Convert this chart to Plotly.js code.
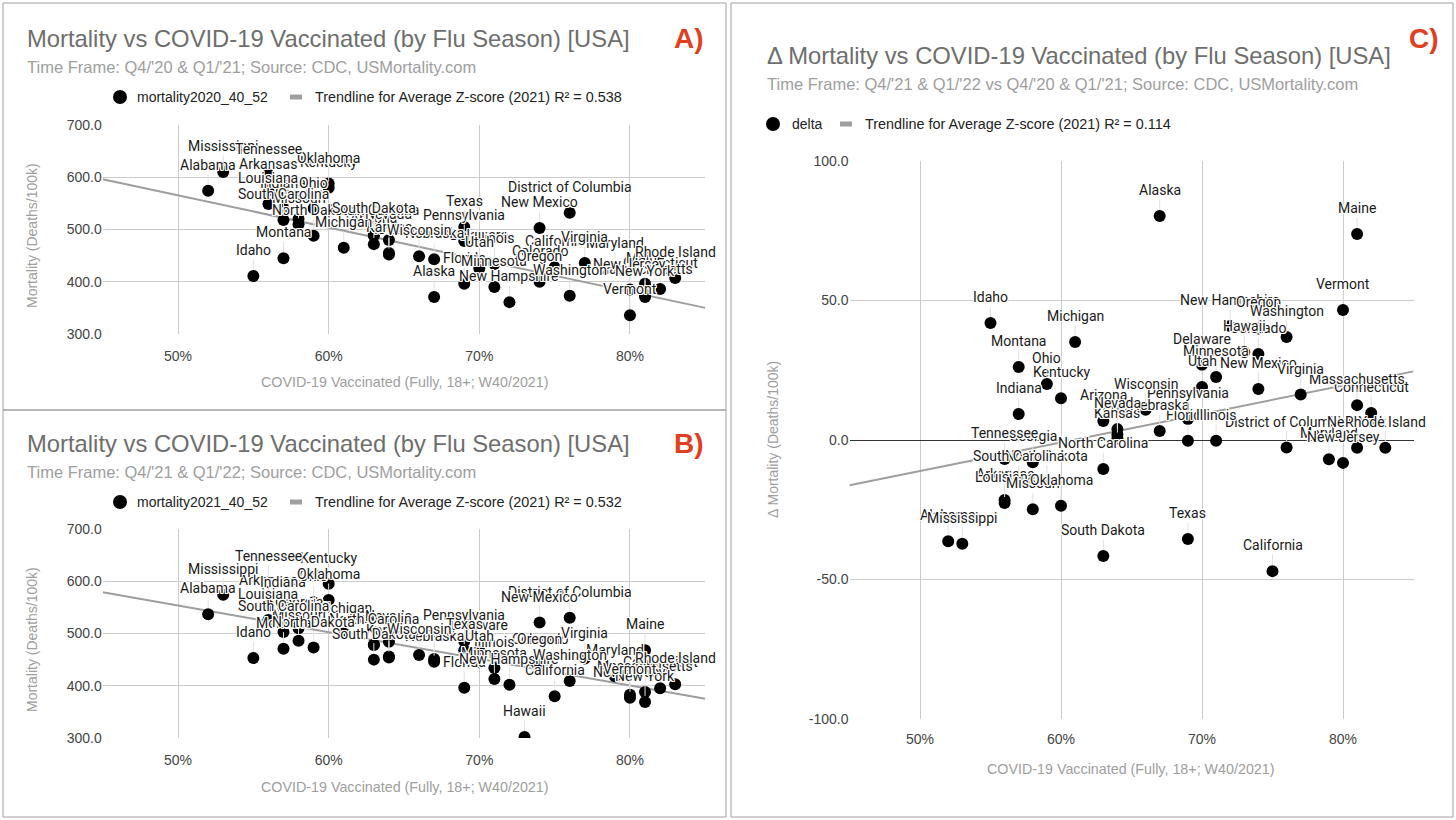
<!DOCTYPE html>
<html>
<head>
<meta charset="utf-8">
<script src="https://cdn.plot.ly/plotly-3.0.1.min.js"></script>
<style>
html,body{margin:0;padding:0;background:#fff;}
#chart{width:1456px;height:820px;}
</style>
</head>
<body>
<div id="chart"></div>
<script>
// ---- data ----
const states = ["Alabama","Alaska","Arizona","Arkansas","California","Colorado","Connecticut","Delaware","District of Columbia","Florida","Georgia","Hawaii","Idaho","Illinois","Indiana","Iowa","Kansas","Kentucky","Louisiana","Maine","Maryland","Massachusetts","Michigan","Minnesota","Mississippi","Missouri","Montana","Nebraska","Nevada","New Hampshire","New Jersey","New Mexico","New York","North Carolina","North Dakota","Ohio","Oklahoma","Oregon","Pennsylvania","Rhode Island","South Carolina","South Dakota","Tennessee","Texas","Utah","Vermont","Virginia","Washington","Wisconsin"];
const vaccinated = [52,67,63,56,75,74,82,70,76,69,58,73,55,71,57,64,64,60,56,81,79,81,61,71,53,58,57,67,64,72,80,74,81,63,59,59,60,74,69,83,57,63,56,69,70,80,77,76,66];
const mortality2020 = [574,371,472,575,428,409,386,440,532,396,520,271,411,434,540,452,455,580,549,396,425,375,465,390,610,510,445,443,480,361,385,503,371,488,488,540,588,400,478,407,518,491,605,505,426,336,436,373,449];
const mortality2021 = [537,451,479,553,380,440,395,467,530,396,510,302,453,434,549,454,456,595,526,468,418,388,500,413,574,486,471,446,484,402,377,521,369,478,473,560,564,440,485,403,503,450,598,468,445,383,452,409,459];
const deltaMort = [-36.3,80.3,6.8,-21.5,-47.0,30.8,9.7,27.0,-2.7,-0.3,-8.0,31.5,41.9,-0.3,9.3,2.0,0.5,15.0,-22.6,73.8,-6.9,12.5,35.1,22.6,-37.2,-24.8,26.2,3.2,3.9,40.9,-8.2,18.3,-2.8,-10.4,-15.0,20.1,-23.6,40.0,7.5,-2.8,-15.0,-41.6,-6.8,-35.5,19.0,46.6,16.3,36.9,10.8];

const trendX = [45,85];
const trendA = [596,350];
const trendB = [579,375];
const trendC = [-16.2,24.6];

const xTickVals = [50,60,70,80];
const xTickText = ["50%","60%","70%","80%"];
const yTickValsAB = [300,400,500,600,700];
const yTickTextAB = ["300.0","400.0","500.0","600.0","700.0"];
const yTickValsC = [-100,-50,0,50,100];
const yTickTextC = ["-100.0","-50.0","0.0","50.0","100.0"];

// ---- layout helpers ----
const W = 1456, H = 820;
const px = v => v / W;
const py = v => 1 - v / H;
const TITLE_FONT = "Liberation Sans, Arial, sans-serif";
const LABEL_FONT = "Roboto, Liberation Sans, sans-serif";
const halo = "1px 1px 0px #fff, -1px -1px 0px #fff, 1px -1px 0px #fff, -1px 1px 0px #fff, 0px 1px 0px #fff, 0px -1px 0px #fff, 1px 0px 0px #fff, -1px 0px 0px #fff";

function scatterTrace(yv, xa, ya) {
  return {x: vaccinated, y: yv, xaxis: xa, yaxis: ya, type: "scatter", mode: "markers",
    marker: {size: 12, color: "#000"}, hoverinfo: "skip", showlegend: false};
}
function trendTrace(yv, xa, ya) {
  return {x: trendX, y: yv, xaxis: xa, yaxis: ya, type: "scatter", mode: "lines",
    line: {color: "#9e9e9e", width: 2}, hoverinfo: "skip", showlegend: false};
}

const data = [
  trendTrace(trendA, "x", "y"), scatterTrace(mortality2020, "x", "y"),
  trendTrace(trendB, "x2", "y2"), scatterTrace(mortality2021, "x2", "y2"),
  trendTrace(trendC, "x3", "y3"), scatterTrace(deltaMort, "x3", "y3")
];

function xAxis(domain, anchor, standoff) {
  return {domain: domain, anchor: anchor, range: [45, 85], tickvals: xTickVals, ticktext: xTickText,
    showgrid: true, gridcolor: "#cccccc", zeroline: false, showline: false, ticks: "",
    ticklabelstandoff: standoff,
    tickfont: {family: TITLE_FONT, size: 14, color: "#444"}, fixedrange: true};
}
function yAxisAB(domain, anchor) {
  return {domain: domain, anchor: anchor, range: [300, 700], tickvals: yTickValsAB, ticktext: yTickTextAB,
    showgrid: true, gridcolor: "#cccccc", zeroline: false, showline: false, ticks: "",
    tickfont: {family: TITLE_FONT, size: 14, color: "#444"}, fixedrange: true};
}

const xDomAB = [px(102.7), px(705.3)];
const xDomC = [px(849.5), px(1413.5)];

const layout = {
  width: W, height: H, margin: {l: 0, r: 0, t: 0, b: 0},
  paper_bgcolor: "#fff", plot_bgcolor: "#fff", showlegend: false,
  xaxis: xAxis(xDomAB, "y", 12),
  yaxis: yAxisAB([py(334), py(125)], "x"),
  xaxis2: xAxis(xDomAB, "y2", 12),
  yaxis2: yAxisAB([py(738), py(529)], "x2"),
  xaxis3: xAxis(xDomC, "y3", 10),
  yaxis3: {domain: [py(719), py(161)], anchor: "x3", range: [-100, 100], tickvals: yTickValsC, ticktext: yTickTextC,
    showgrid: true, gridcolor: "#cccccc", zeroline: true, zerolinecolor: "#333", zerolinewidth: 1,
    showline: false, ticks: "", tickfont: {family: TITLE_FONT, size: 14, color: "#444"}, fixedrange: true},
  shapes: [],
  annotations: []
};

// panel borders
[[3,3,726,410],[3,410,726,817],[731,3,1453,817]].forEach(b => {
  layout.shapes.push({type: "rect", xref: "paper", yref: "paper", x0: px(b[0]), x1: px(b[2]), y0: py(b[1]), y1: py(b[3]),
    line: {color: "#a0a0a0", width: 1}, fillcolor: "rgba(0,0,0,0)", layer: "above"});
});

function textAnn(t, x, y, size, color, opts) {
  return Object.assign({xref: "paper", yref: "paper", x: px(x), y: py(y), text: t, showarrow: false,
    xanchor: "left", yanchor: "middle", font: {family: TITLE_FONT, size: size, color: color}}, opts || {});
}

const panels = [
  {title: "Mortality vs COVID-19 Vaccinated (by Flu Season) [USA]", tx: 25, ty: 38,
   sub: "Time Frame: Q4/'20 & Q1/'21; Source: CDC, USMortality.com", sy: 67,
   letter: "A)", lx: 689, ly: 38,
   series: "mortality2020_40_52", r2: "0.538", legY: 97, dotX: 120, serX: 135, barX: 290, trX: 313,
   xt: "COVID-19 Vaccinated (Fully, 18+; W40/2021)", xtx: 405, xty: 382,
   yt: "Mortality (Deaths/100k)", ytx: 32, yty: 236},
  {title: "Mortality vs COVID-19 Vaccinated (by Flu Season) [USA]", tx: 25, ty: 443,
   sub: "Time Frame: Q4/'21 & Q1/'22; Source: CDC, USMortality.com", sy: 472,
   letter: "B)", lx: 689, ly: 443,
   series: "mortality2021_40_52", r2: "0.532", legY: 502, dotX: 120, serX: 135, barX: 290, trX: 313,
   xt: "COVID-19 Vaccinated (Fully, 18+; W40/2021)", xtx: 405, xty: 787,
   yt: "Mortality (Deaths/100k)", ytx: 32, yty: 640},
  {title: "Δ Mortality vs COVID-19 Vaccinated (by Flu Season) [USA]", tx: 765, ty: 55,
   sub: "Time Frame: Q4/'21 & Q1/'22 vs Q4/'20 & Q1/'21; Source: CDC, USMortality.com", sy: 84,
   letter: "C)", lx: 1424, ly: 38,
   series: "delta", r2: "0.114", legY: 124, dotX: 773, serX: 790, barX: 840, trX: 863,
   xt: "COVID-19 Vaccinated (Fully, 18+; W40/2021)", xtx: 1131, xty: 769,
   yt: "Δ Mortality (Deaths/100k)", ytx: 773, yty: 440}
];

panels.forEach(p => {
  layout.annotations.push(textAnn(p.title, p.tx, p.ty, 23.8, "#6e6e6e"));
  layout.annotations.push(textAnn(p.sub, p.tx, p.sy, 16.5, "#9e9e9e"));
  layout.annotations.push(textAnn("<b>" + p.letter + "</b>", p.lx, p.ly, 28, "#e0401f", {xanchor: "center"}));
  layout.annotations.push(textAnn(p.series, p.serX, p.legY, 14, "#222"));
  layout.annotations.push(textAnn("Trendline for Average Z-score (2021) R² = " + p.r2, p.trX, p.legY, 14.4, "#222"));
  layout.annotations.push(textAnn(p.xt, p.xtx, p.xty, 14.3, "#9e9e9e", {xanchor: "center"}));
  layout.annotations.push(textAnn(p.yt, p.ytx, p.yty, 14, "#9e9e9e", {xanchor: "center", textangle: -90}));
  layout.shapes.push({type: "circle", xref: "paper", yref: "paper",
    x0: px(p.dotX - 7), x1: px(p.dotX + 7), y0: py(p.legY + 7), y1: py(p.legY - 7),
    fillcolor: "#000", line: {width: 0}});
  layout.shapes.push({type: "rect", xref: "paper", yref: "paper",
    x0: px(p.barX), x1: px(p.barX + 12), y0: py(p.legY + 2.5), y1: py(p.legY - 2.5),
    fillcolor: "#9e9e9e", line: {width: 0}});
});

// point labels with stems
function pointLabels(yv, xa, ya) {
  states.forEach((s, i) => {
    layout.annotations.push({xref: xa, yref: ya, x: vaccinated[i], y: yv[i], text: s,
      showarrow: true, arrowhead: 0, arrowwidth: 1, arrowcolor: "#e2e2e2", ax: 0, ay: -26, standoff: 6,
      font: {family: LABEL_FONT, size: 14, color: "#1a1a1a", shadow: halo}});
  });
}
pointLabels(mortality2020, "x", "y");
pointLabels(mortality2021, "x2", "y2");
pointLabels(deltaMort, "x3", "y3");

Plotly.newPlot("chart", data, layout, {staticPlot: true, displayModeBar: false});
</script>
</body>
</html>
